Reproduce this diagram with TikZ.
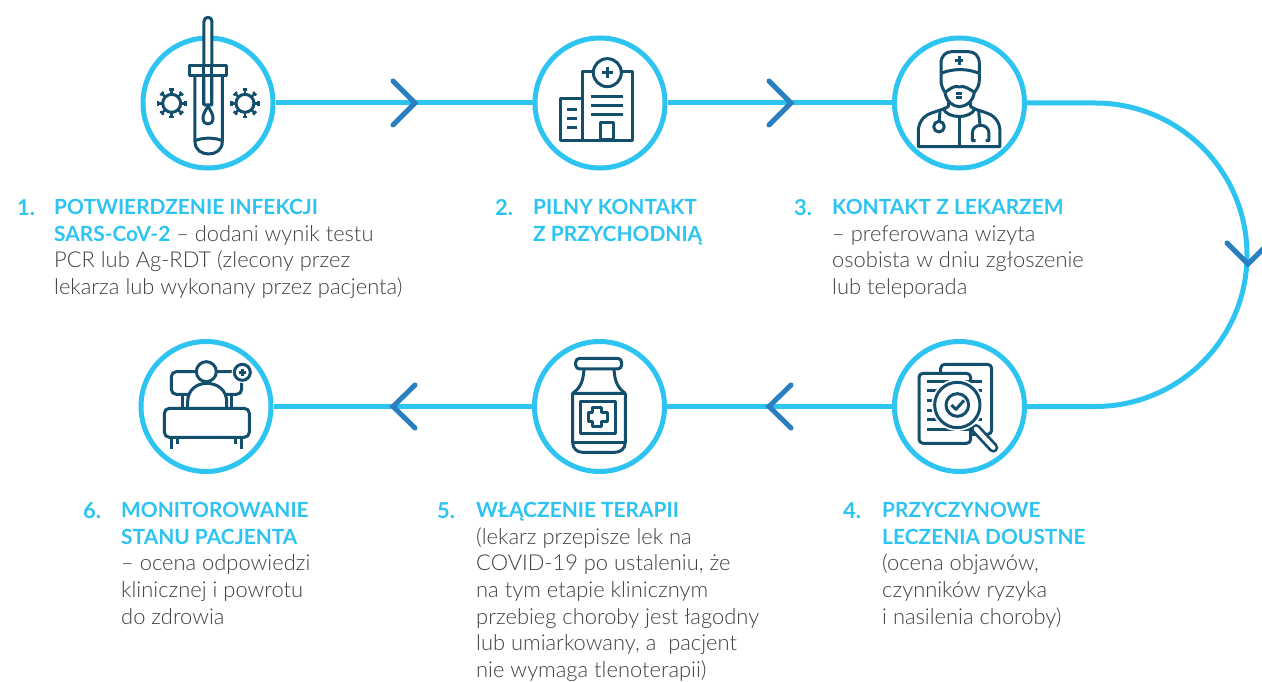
\documentclass[tikz,border=0pt]{standalone}
\usepackage{fontspec}
\setmainfont{Lato Light}[BoldFont={Lato Bold}]
\definecolor{ring}{HTML}{2EC4F1}
\definecolor{chev}{HTML}{2A7FC1}
\definecolor{ink}{HTML}{134F6C}
\definecolor{txt}{HTML}{404040}
\tikzset{
  stepring/.style={circle,draw=ring,line width=5pt,fill=white,minimum size=130pt,inner sep=0pt},
  link/.style={draw=ring,line width=5pt},
  chevron/.style={draw=chev,line width=5pt,line cap=round,line join=miter},
  icon/.style={draw=ink,line width=3pt,line join=round},
  thin icon/.style={draw=ink,line width=2.4pt},
  body/.style={anchor=north west,inner sep=0pt,align=left,text=txt,font=\fontsize{21.9}{26.7}\selectfont},
  num/.style={anchor=north west,inner sep=0pt,text=ring,font=\fontsize{21.9}{26.7}\selectfont\bfseries},
}
\newcommand{\hd}[1]{{\fontsize{20.9}{26.7}\selectfont\textcolor{ring}{\textbf{#1}}}}
\begin{document}
\begin{tikzpicture}[x=1pt,y=-1pt]
\useasboundingbox (0,0) rectangle (1262,682);
\fill[white] (0,0) rectangle (1262,682);
\node[stepring] (c1) at (208,103) {};
\node[stepring] (c2) at (600,103) {};
\node[stepring] (c3) at (959.5,103) {};
\node[stepring] (c4) at (959.5,406.5) {};
\node[stepring] (c5) at (599.5,406.5) {};
\node[stepring] (c6) at (206,406.5) {};
\draw[link] (c1) -- (c2);
\draw[link] (c2) -- (c3);
\draw[link] (c3) -- (1095,103) .. controls (1179,103) and (1247,171) .. (1247,255) .. controls (1247,339) and (1179,406.5) .. (1095,406.5) -- (c4);
\draw[link] (c4) -- (c5);
\draw[link] (c5) -- (c6);
% chevrons
\draw[chevron] (393,81) -- (415,103) -- (393,125);
\draw[chevron] (769,81) -- (791,103) -- (769,125);
\draw[chevron] (1227,243) -- (1248,264) -- (1269,243);
\draw[chevron] (791,385) -- (769,406.5) -- (791,428);
\draw[chevron] (415,385) -- (393,406.5) -- (415,428);
% icon 1
\begin{scope}[shift={(130,10)},scale=0.3333]
  \draw[icon,fill=white] (222,285) -- (222,34) .. controls (222,18) and (246,18) .. (246,34) -- (246,285) -- cycle;
  \draw[icon] (195,198) -- (195,395) .. controls (195,420) and (215,432) .. (236,432) .. controls (257,432) and (277,420) .. (277,395) -- (277,198);
  \draw[icon] (195,392) .. controls (220,382) and (252,382) .. (277,392);
  \draw[icon,fill=white] (180,168) rectangle (290,198);
  \draw[icon] (222,168) -- (222,285) (246,168) -- (246,285);
  \draw[icon] (234,288) .. controls (225,305) and (219,312) .. (219,325) .. controls (219,348) and (249,348) .. (249,325) .. controls (249,312) and (243,305) .. (234,288);
  \foreach \cx in {125,345} {
    \draw[icon] (\cx,280) circle (27);
    \foreach \a in {0,45,...,315} {
      \begin{scope}[shift={(\cx,280)},rotate=\a]
        \draw[thin icon] (27,0) -- (41,0) (41,-7) -- (41,7);
      \end{scope}
    }
  }
\end{scope}
% icon 2
\begin{scope}[shift={(520,25)},scale=0.3333]
  \draw[icon] (187,347) -- (187,140) -- (337,140) -- (337,347) -- cycle;
  \draw[icon] (187,222) -- (120,222) -- (120,347) -- (187,347);
  \draw[icon,fill=white] (262,143) circle (42);
  \draw[icon] (262,125) -- (262,160) (245,143) -- (280,143);
  \draw[icon] (213,215) -- (310,215) (213,242) -- (310,242) (213,269) -- (310,269);
  \draw[icon] (140,254) -- (172,254) (140,281) -- (172,281) (140,308) -- (172,308);
  \draw[icon] (241,345) -- (241,292) -- (282,292) -- (282,345) -- cycle;
\end{scope}
% icon 3
\begin{scope}[shift={(880,25)},scale=0.3333]
  \draw[icon] (183,145) -- (183,115) .. controls (183,92) and (198,80) .. (215,80) -- (265,80) .. controls (283,80) and (298,92) .. (298,115) -- (298,145);
  \draw[icon] (183,145) .. controls (220,130) and (260,130) .. (298,145);
  \draw[icon] (237,94) -- (237,120) (224,107) -- (250,107);
  \draw[icon] (183,145) -- (183,165) .. controls (183,180) and (188,192) .. (195,202);
  \draw[icon] (298,145) -- (298,165) .. controls (298,180) and (292,192) .. (283,202);
  \draw[icon] (195,202) .. controls (212,190) and (225,180) .. (238,186) .. controls (252,180) and (268,192) .. (283,202) .. controls (280,228) and (258,245) .. (238,245) .. controls (218,245) and (198,228) .. (195,202);
  \draw[thin icon] (228,205) -- (247,205) (228,218) -- (247,218);
  \draw[icon] (205,232) -- (205,245) -- (190,252) .. controls (205,282) and (270,282) .. (285,252) -- (272,245) -- (272,232);
  \draw[icon] (190,252) -- (152,265) .. controls (128,274) and (115,295) .. (115,320) -- (115,365) -- (360,365) -- (360,320) .. controls (360,295) and (347,274) .. (323,265) -- (285,252);
  \draw[icon] (237,275) -- (237,365);
  \draw[icon] (180,255) -- (178,289);
  \draw[icon] (177,305) circle (16);
  \draw[icon] (296,258) -- (300,300);
  \draw[icon] (287,347) -- (277,347) -- (277,325) .. controls (277,293) and (327,293) .. (327,325) -- (327,347) -- (317,347);
\end{scope}
% icon 4
\begin{scope}[shift={(880,335)},scale=0.3333]
  \draw[icon,rounded corners=4pt] (182,115) -- (182,88) -- (335,88) -- (335,298) -- (272,298);
  \draw[icon,fill=white,rounded corners=4pt] (117,115) rectangle (272,325);
  \draw[icon] (140,140) -- (305,140) (140,168) -- (305,168) (140,197) -- (305,197) (140,226) -- (305,226) (140,255) -- (305,255) (140,283) -- (272,283);
  \draw[draw=ink,line width=10pt,line cap=round] (288,282) -- (340,338);
  \draw[white,line width=4.5pt,line cap=round] (288,282) -- (340,338);
  \fill[white] (232,210) circle (78);
  \draw[icon] (232,210) circle (68);
  \draw[icon] (232,210) circle (34);
  \draw[icon] (214,210) -- (228,223) -- (252,196);
\end{scope}
% icon 5
\begin{scope}[shift={(520,335)},scale=0.3333]
  \draw[icon,rounded corners=4pt] (167,70) rectangle (305,102);
  \draw[icon] (192,102) .. controls (190,140) and (180,160) .. (158,175);
  \draw[icon] (282,102) .. controls (284,140) and (294,160) .. (316,175);
  \draw[icon] (158,175) -- (316,175) -- (316,322) .. controls (316,342) and (300,352) .. (285,352) -- (188,352) .. controls (172,352) and (158,342) .. (158,322) -- cycle;
  \draw[icon] (158,322) -- (316,322);
  \draw[icon] (182,200) rectangle (288,296);
  \draw[icon] (218,218) -- (245,218) -- (245,233) -- (262,233) -- (262,260) -- (245,260) -- (245,275) -- (218,275) -- (218,260) -- (206,260) -- (206,233) -- (218,233) -- cycle;
\end{scope}
% icon 6
\begin{scope}[shift={(130,335)},scale=0.3333]
  \draw[icon,rounded corners=5pt] (124,110) rectangle (335,178);
  \draw[icon] (157,178) -- (157,220) (305,178) -- (305,220);
  \draw[icon,fill=white] (173,220) -- (173,200) .. controls (173,165) and (200,145) .. (230,145) .. controls (262,145) and (290,165) .. (290,200) -- (290,220);
  \draw[icon,fill=white] (229,110) circle (30);
  \fill[white] (337,112) circle (32);
  \draw[icon] (337,112) circle (24);
  \draw[thin icon] (337,101) -- (337,123) (326,112) -- (348,112);
  \draw[icon,fill=white,rounded corners=5pt] (103,220) rectangle (358,307);
  \draw[icon] (125,307) -- (125,343) (142,307) -- (142,328) (318,307) -- (318,328) (336,307) -- (336,343);
\end{scope}
% texts
\node[num] (n1) at (17,199) {1.};
\node[body] (t1) at (54,199) {\hd{POTWIERDZENIE INFEKCJI}\\\hd{SARS-CoV-2} – dodani wynik testu\\PCR lub Ag-RDT (zlecony przez\\lekarza lub wykonany przez pacjenta)};
\node[num] (n2) at (495,199) {2.};
\node[body] (t2) at (533,199) {\hd{PILNY KONTAKT}\\\hd{Z PRZYCHODNIĄ}};
\node[num] (n3) at (794,199) {3.};
\node[body] (t3) at (832,199) {\hd{KONTAKT Z LEKARZEM}\\– preferowana wizyta\\osobista w dniu zgłoszenie\\lub teleporada};
\node[num] (n4) at (843,502) {4.};
\node[body] (t4) at (882,502) {\hd{PRZYCZYNOWE}\\\hd{LECZENIA DOUSTNE}\\(ocena objawów,\\czynników ryzyka\\i nasilenia choroby)};
\node[num] (n5) at (437,502) {5.};
\node[body] (t5) at (476,502) {\hd{WŁĄCZENIE TERAPII}\\(lekarz przepisze lek na\\COVID-19 po ustaleniu, że\\na tym etapie klinicznym\\przebieg choroby jest łagodny\\lub umiarkowany, a~~pacjent\\nie wymaga tlenoterapii)};
\node[num] (n6) at (83,502) {6.};
\node[body] (t6) at (121,502) {\hd{MONITOROWANIE}\\\hd{STANU PACJENTA}\\– ocena odpowiedzi\\klinicznej i powrotu\\do zdrowia};
\end{tikzpicture}
\end{document}
